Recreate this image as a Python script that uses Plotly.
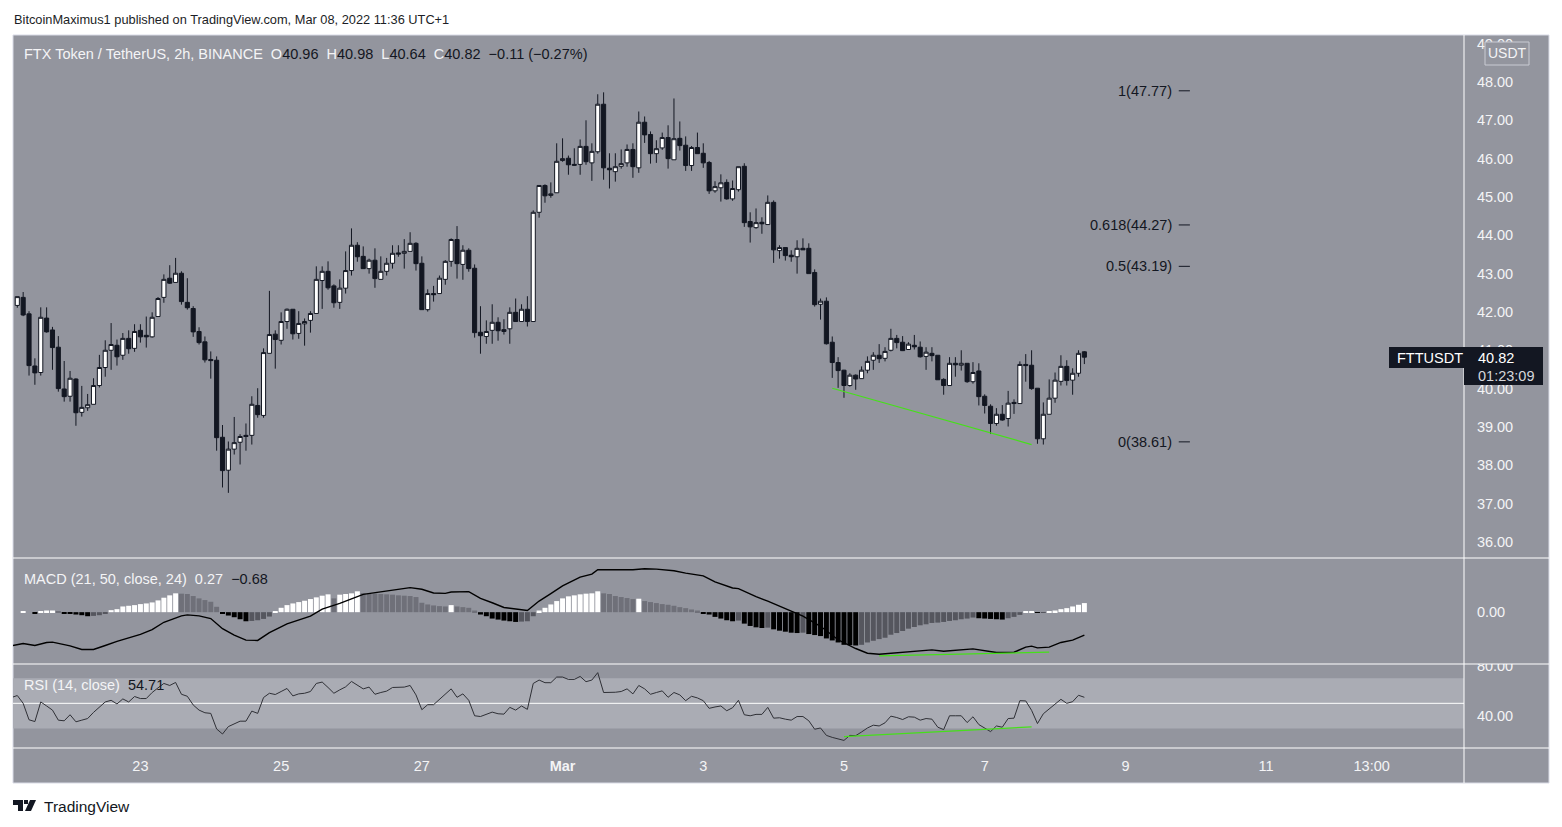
import plotly.graph_objects as go

W, H = 1562, 827

# FTTUSDT 2h candles
opens = [
    42.17, 42.38, 41.95, 40.59, 40.42, 41.84, 41.53, 41.08, 39.99, 39.80,
    40.25, 39.38, 39.50, 39.59, 40.08, 40.55, 41.00, 41.13, 40.87, 41.31,
    41.05, 41.52, 41.39, 41.35, 41.88, 42.38, 42.88, 42.77, 43.01, 42.25,
    42.09, 41.49, 41.22, 40.76, 40.74, 38.73, 37.87, 38.42, 38.60, 38.78,
    38.78, 39.56, 39.30, 40.92, 41.42, 41.26, 41.75, 42.07, 41.44, 41.69,
    41.78, 41.96, 42.82, 43.06, 42.68, 42.25, 42.62, 43.08, 43.74, 43.45,
    43.13, 43.35, 42.85, 43.06, 43.27, 43.54, 43.53, 43.58, 43.79, 43.27,
    42.06, 42.48, 42.48, 42.85, 43.32, 43.89, 43.24, 43.61, 43.14, 41.47,
    41.36, 41.52, 41.73, 41.49, 41.56, 41.99, 41.75, 42.07, 41.75, 44.60,
    45.30, 45.04, 45.11, 45.95, 46.01, 45.85, 45.85, 46.32, 45.89, 46.18,
    47.42, 45.75, 45.66, 45.80, 45.89, 46.24, 45.76, 46.95, 46.63, 46.13,
    46.28, 46.55, 45.97, 46.53, 46.35, 45.82, 46.29, 46.14, 45.90, 45.16,
    45.24, 45.38, 44.95, 45.19, 45.80, 44.36, 44.20, 44.34, 44.28, 44.86,
    43.60, 43.68, 43.48, 43.44, 43.66, 43.66, 43.03, 42.20, 42.28, 41.21,
    40.68, 40.48, 40.08, 40.35, 40.26, 40.48, 40.74, 40.87, 40.79, 41.00,
    41.31, 41.21, 41.02, 41.13, 41.08, 40.84, 40.92, 40.87, 40.24, 40.08,
    40.66, 40.61, 40.66, 40.18, 40.46, 39.80, 39.54, 39.09, 39.33, 39.22,
    39.64, 39.61, 40.63, 40.61, 40.01, 38.69, 39.33, 39.75, 40.19, 40.58,
    40.22, 40.40, 40.96,
]
highs = [
    42.40, 42.52, 42.02, 40.79, 42.12, 42.12, 41.61, 41.37, 40.72, 40.46,
    40.27, 40.07, 39.86, 40.27, 40.88, 41.26, 41.71, 41.28, 41.45, 41.52,
    41.68, 41.68, 41.88, 41.99, 42.39, 42.98, 43.22, 43.41, 43.06, 42.88,
    42.15, 41.60, 41.36, 40.97, 40.84, 39.05, 38.62, 39.26, 38.81, 39.09,
    39.80, 40.01, 41.05, 42.55, 41.52, 41.99, 42.09, 42.07, 42.02, 41.83,
    42.02, 43.19, 43.19, 43.32, 42.72, 42.85, 43.58, 44.18, 43.82, 43.71,
    43.39, 43.66, 43.45, 43.41, 43.74, 43.74, 43.90, 44.08, 43.82, 43.45,
    42.59, 42.68, 42.95, 43.35, 43.92, 44.24, 43.74, 43.66, 43.24, 42.15,
    41.78, 42.20, 41.86, 41.81, 42.12, 42.35, 42.20, 42.41, 44.65, 45.30,
    45.33, 45.38, 46.40, 46.53, 46.08, 46.27, 46.50, 47.00, 46.40, 47.68,
    47.73, 46.14, 46.14, 46.24, 46.37, 46.40, 47.23, 47.10, 46.71, 46.48,
    46.68, 46.87, 47.57, 46.97, 46.58, 46.33, 46.68, 46.40, 45.94, 45.41,
    45.59, 45.46, 45.43, 45.79, 45.88, 44.60, 44.70, 44.47, 45.04, 44.91,
    43.74, 43.68, 43.61, 43.87, 43.92, 43.79, 43.11, 42.35, 42.38, 41.36,
    40.82, 40.49, 40.40, 40.37, 40.58, 40.84, 40.95, 41.16, 41.08, 41.56,
    41.40, 41.37, 41.21, 41.40, 41.23, 41.08, 41.08, 40.87, 40.27, 40.82,
    40.82, 41.00, 40.66, 40.69, 40.66, 39.85, 39.59, 39.49, 39.57, 39.94,
    39.72, 40.71, 40.90, 41.00, 40.01, 39.64, 40.24, 40.42, 40.87, 40.74,
    40.53, 41.00, 40.98,
]
lows = [
    42.11, 41.89, 40.34, 40.10, 40.34, 41.46, 40.49, 39.92, 39.66, 39.66,
    39.03, 39.27, 39.42, 39.59, 40.03, 40.31, 40.49, 40.60, 40.75, 40.91,
    40.96, 41.20, 41.07, 41.33, 41.88, 42.24, 42.73, 42.77, 42.19, 42.06,
    41.35, 41.15, 40.68, 40.26, 38.38, 37.42, 37.28, 38.28, 38.02, 38.38,
    38.54, 39.24, 39.24, 40.92, 40.52, 41.15, 41.56, 41.28, 41.30, 41.12,
    41.46, 41.96, 42.08, 42.58, 42.11, 42.08, 42.48, 42.95, 43.31, 43.13,
    43.00, 42.63, 42.85, 42.95, 43.13, 43.44, 43.13, 43.58, 43.08, 42.06,
    42.01, 42.27, 42.48, 42.71, 43.18, 42.87, 42.84, 43.05, 41.33, 40.91,
    41.17, 41.17, 41.25, 41.41, 41.17, 41.75, 41.75, 41.62, 41.75, 44.46,
    44.85, 44.98, 45.11, 45.92, 45.58, 45.82, 45.58, 45.84, 45.42, 46.13,
    45.45, 45.22, 45.40, 45.74, 45.79, 45.50, 45.63, 46.41, 45.87, 45.89,
    46.23, 45.74, 45.97, 46.21, 45.68, 45.68, 46.13, 45.76, 45.08, 45.11,
    44.88, 44.93, 44.90, 45.14, 44.22, 43.81, 44.17, 44.04, 44.28, 43.28,
    43.39, 43.34, 43.31, 43.00, 43.62, 43.00, 42.14, 41.80, 41.15, 40.28,
    40.02, 39.76, 40.05, 39.97, 40.26, 40.40, 40.49, 40.67, 40.71, 40.97,
    41.05, 40.98, 41.01, 41.02, 40.81, 40.49, 40.71, 40.23, 39.84, 40.08,
    40.31, 40.47, 40.15, 40.13, 39.56, 39.35, 38.82, 39.03, 39.16, 39.01,
    39.34, 39.61, 40.18, 39.97, 38.56, 38.54, 39.33, 39.63, 40.08, 40.08,
    39.84, 40.31, 40.64,
]
closes = [
    42.40, 41.92, 40.60, 40.41, 41.86, 41.48, 41.07, 40.00, 39.79, 40.27,
    39.37, 39.51, 39.58, 40.08, 40.55, 41.00, 41.15, 40.83, 41.31, 41.04,
    41.49, 41.35, 41.35, 41.86, 42.35, 42.85, 42.75, 43.01, 42.27, 42.11,
    41.48, 41.20, 40.75, 40.73, 38.72, 37.86, 38.42, 38.59, 38.75, 38.75,
    39.59, 39.32, 40.94, 41.41, 41.28, 41.75, 42.07, 41.43, 41.70, 41.75,
    41.96, 42.85, 43.06, 42.63, 42.24, 42.62, 43.08, 43.74, 43.44, 43.13,
    43.35, 42.87, 43.06, 43.27, 43.53, 43.51, 43.58, 43.79, 43.26, 42.06,
    42.48, 42.45, 42.88, 43.32, 43.89, 43.26, 43.61, 43.13, 41.46, 41.38,
    41.49, 41.73, 41.51, 41.54, 41.99, 41.75, 42.07, 41.75, 44.60, 45.30,
    45.03, 45.08, 45.93, 46.00, 45.84, 45.83, 46.32, 45.92, 46.19, 47.42,
    45.76, 45.71, 45.79, 45.87, 46.24, 45.79, 46.95, 46.62, 46.13, 46.26,
    46.55, 46.00, 46.52, 46.34, 45.82, 46.29, 46.13, 45.89, 45.16, 45.27,
    45.37, 44.95, 45.22, 45.79, 44.33, 44.22, 44.33, 44.30, 44.86, 43.62,
    43.68, 43.47, 43.44, 43.66, 43.62, 43.00, 42.19, 42.28, 41.17, 40.68,
    40.47, 40.08, 40.35, 40.25, 40.48, 40.71, 40.87, 40.78, 40.97, 41.31,
    41.20, 40.99, 41.16, 41.09, 40.83, 40.95, 40.86, 40.23, 40.08, 40.66,
    40.62, 40.66, 40.18, 40.42, 39.79, 39.56, 39.09, 39.33, 39.18, 39.62,
    39.61, 40.63, 40.60, 40.00, 38.69, 39.33, 39.75, 40.22, 40.58, 40.21,
    40.40, 40.92, 40.82,
]

macd_hist = [
    0.00, 0.03, 0.00, -0.03, 0.03, 0.05, 0.05, 0.01, -0.03, -0.05,
    -0.07, -0.09, -0.12, -0.11, -0.09, -0.03, 0.06, 0.09, 0.17, 0.19,
    0.21, 0.24, 0.26, 0.29, 0.35, 0.43, 0.50, 0.56, 0.55, 0.54,
    0.48, 0.41, 0.36, 0.31, 0.16, -0.05, -0.10, -0.15, -0.21, -0.27,
    -0.26, -0.24, -0.20, -0.13, 0.03, 0.13, 0.21, 0.26, 0.30, 0.34,
    0.39, 0.44, 0.49, 0.53, 0.41, 0.52, 0.54, 0.56, 0.62, 0.57,
    0.56, 0.55, 0.54, 0.53, 0.52, 0.50, 0.49, 0.48, 0.45, 0.28,
    0.23, 0.20, 0.18, 0.17, 0.21, 0.17, 0.15, 0.13, 0.05, -0.07,
    -0.12, -0.19, -0.22, -0.25, -0.27, -0.29, -0.28, -0.27, -0.12, 0.05,
    0.13, 0.23, 0.33, 0.41, 0.47, 0.50, 0.53, 0.55, 0.56, 0.62,
    0.56, 0.54, 0.48, 0.45, 0.42, 0.39, 0.40, 0.33, 0.30, 0.27,
    0.24, 0.22, 0.19, 0.15, 0.12, 0.08, 0.05, -0.03, -0.07, -0.14,
    -0.19, -0.24, -0.27, -0.25, -0.34, -0.41, -0.45, -0.47, -0.46, -0.51,
    -0.55, -0.58, -0.61, -0.62, -0.61, -0.65, -0.68, -0.71, -0.78, -0.84,
    -0.90, -0.97, -0.98, -0.99, -0.97, -0.90, -0.85, -0.80, -0.76, -0.67,
    -0.62, -0.56, -0.49, -0.44, -0.39, -0.36, -0.32, -0.31, -0.29, -0.26,
    -0.24, -0.21, -0.19, -0.16, -0.18, -0.19, -0.20, -0.21, -0.22, -0.18,
    -0.14, -0.08, 0.02, 0.03, -0.01, -0.01, 0.01, 0.05, 0.09, 0.12,
    0.17, 0.22, 0.27,
]

# macd signal line, vertices read at these bars
macd_bars = [
    -1, 1, 3, 5, 6, 8, 9, 11, 13, 15, 17, 21, 23, 25, 28, 29, 31, 33, 35, 37,
    39, 41, 43, 46, 50, 52, 55, 59, 61, 62, 65, 67, 69, 71, 73, 74, 77, 79, 81, 83,
    87, 89, 91, 93, 96, 98, 99, 102, 105, 107, 109, 112, 114, 117, 119, 122, 123, 126, 128, 132,
    134, 137, 140, 143, 145, 147, 150, 153, 156, 158, 163, 167, 170, 172, 173, 174, 176, 178, 180, 182,
]
macd_line = [
    -1.00, -0.93, -0.99, -0.90, -0.89, -0.97, -1.00, -1.11, -1.11, -0.99, -0.87, -0.66, -0.52, -0.30, -0.11, -0.08, -0.11, -0.19, -0.49, -0.68,
    -0.83, -0.84, -0.61, -0.35, -0.12, 0.09, 0.26, 0.53, 0.58, 0.59, 0.68, 0.73, 0.68, 0.57, 0.56, 0.60, 0.61, 0.41, 0.28, 0.14,
    0.05, 0.33, 0.55, 0.78, 1.04, 1.13, 1.26, 1.26, 1.26, 1.29, 1.28, 1.23, 1.16, 1.08, 0.90, 0.72, 0.70, 0.46, 0.33, 0.03,
    -0.12, -0.42, -0.82, -1.08, -1.22, -1.25, -1.21, -1.16, -1.12, -1.16, -1.09, -1.20, -1.19, -1.04, -1.01, -1.06, -1.04, -0.90, -0.83, -0.68,
]

# rsi per bar, first value belongs to the bar before the first candle
rsi = [
    54.6, 56.2, 50.0, 36.9, 35.5, 51.1, 47.9, 44.6, 36.6, 36.1,
    40.9, 35.3, 36.6, 37.9, 42.8, 47.0, 51.1, 52.4, 49.5, 53.5,
    51.1, 55.4, 53.8, 53.8, 58.6, 62.3, 65.8, 64.2, 66.6, 57.2,
    55.6, 48.7, 44.6, 42.5, 42.0, 29.6, 25.6, 31.5, 33.9, 35.8,
    35.8, 43.8, 42.0, 54.6, 58.0, 57.0, 59.4, 61.8, 55.9, 57.5,
    58.0, 59.4, 65.8, 66.9, 62.6, 58.0, 60.7, 63.1, 67.4, 64.5,
    61.5, 62.9, 57.2, 58.6, 59.7, 62.6, 62.6, 62.9, 64.2, 56.7,
    44.9, 48.9, 48.9, 52.9, 57.2, 61.5, 54.8, 57.5, 52.4, 40.1,
    39.5, 41.4, 43.0, 41.7, 41.4, 46.8, 44.6, 47.9, 45.2, 65.8,
    68.5, 66.4, 66.4, 70.9, 70.9, 69.0, 69.0, 71.4, 67.2, 68.5,
    74.4, 58.6, 58.6, 58.8, 59.4, 61.5, 57.5, 64.2, 61.5, 57.2,
    58.6, 59.9, 54.8, 58.6, 56.7, 52.1, 55.6, 54.3, 52.1, 46.0,
    47.1, 47.9, 44.1, 46.5, 52.4, 40.9, 40.1, 41.2, 41.2, 46.8,
    38.2, 38.5, 37.4, 36.6, 39.5, 39.5, 36.1, 29.4, 30.4, 24.5,
    22.9, 21.6, 20.5, 24.5, 24.3, 27.2, 30.4, 32.6, 32.0, 34.5,
    39.8, 38.7, 37.1, 39.3, 39.0, 36.6, 37.9, 37.4, 31.0, 29.1,
    40.1, 40.1, 40.1, 34.7, 39.3, 33.1, 30.4, 27.5, 32.0, 31.0,
    37.9, 38.2, 52.1, 51.9, 44.4, 33.9, 41.7, 45.4, 49.5, 53.2,
    50.0, 51.3, 56.4, 54.8,
]

fib_labels = ["1", "0.618", "0.5", "0"]
fib_levels = [47.77, 44.27, 43.19, 38.61]

trend_bars = [139, 173]
price_trend = [40.01, 38.54]
macd_trend_bars = [147, 176]
macd_trend = [-1.30, -1.19]
rsi_trend_bars = [141, 173]
rsi_trend = [23.5, 31.3]

tick_bars = [21, 45, 69, 93, 117, 141, 165, 189, 213, 231]
tick_text = ["23", "25", "27", "<b>Mar</b>", "3", "5", "7", "9", "11", "13:00"]

BG = "#93959e"
DARK = "#131722"
LIGHT = "#f4f4f6"
GREEN = "#46e01a"
FONT = "Liberation Sans"


def px(x):
    return x / W


def py(y):
    return 1 - y / H


def hist_colors(values):
    colors = []
    prev = values[0]
    for v in values:
        if v >= 0:
            colors.append("#ffffff" if v >= prev else "#6f7079")
        else:
            colors.append("#000000" if v < prev else "#55565e")
        prev = v
    return colors


def paper_rect(x0, y0, x1, y1, fill, line=None, layer="below"):
    return dict(type="rect", xref="paper", yref="paper", x0=px(x0), x1=px(x1), y0=py(y0), y1=py(y1),
                fillcolor=fill, line=dict(color=line or fill, width=1 if line else 0), layer=layer)


def paper_line(x0, y0, x1, y1, layer="below"):
    return dict(type="line", xref="paper", yref="paper", x0=px(x0), x1=px(x1), y0=py(y0), y1=py(y1),
                line=dict(color="#ffffff", width=1), layer=layer)


def paper_path(points, fill):
    d = "M " + " L ".join("{:.5f},{:.5f}".format(px(x), py(y)) for x, y in points) + " Z"
    return dict(type="path", xref="paper", yref="paper", path=d, fillcolor=fill, line=dict(width=0), layer="above")


def label(x, y, text, size=14.5, color=LIGHT, anchor="left"):
    return dict(xref="paper", yref="paper", x=px(x), y=py(y), text=text, showarrow=False, xanchor=anchor,
                yanchor="middle", align=anchor, borderpad=0, font=dict(family=FONT, size=size, color=color))


bars = list(range(len(opens)))

fig = go.Figure()
fig.add_trace(go.Candlestick(
    x=bars, open=opens, high=highs, low=lows, close=closes, xaxis="x", yaxis="y", whiskerwidth=0,
    increasing=dict(line=dict(color=DARK, width=1), fillcolor="#ffffff"),
    decreasing=dict(line=dict(color=DARK, width=1), fillcolor=DARK),
))
fig.add_trace(go.Scatter(x=trend_bars, y=price_trend, mode="lines", xaxis="x", yaxis="y",
                         line=dict(color=GREEN, width=1.2)))
fig.add_trace(go.Bar(x=bars, y=macd_hist, xaxis="x", yaxis="y2", width=0.85,
                     marker=dict(color=hist_colors(macd_hist), line=dict(width=0))))
fig.add_trace(go.Scatter(x=macd_bars, y=macd_line, mode="lines", xaxis="x", yaxis="y2",
                         line=dict(color="#000000", width=1.4)))
fig.add_trace(go.Scatter(x=macd_trend_bars, y=macd_trend, mode="lines", xaxis="x", yaxis="y2",
                         line=dict(color=GREEN, width=1.2)))
fig.add_trace(go.Scatter(x=[b - 1 for b in range(len(rsi))], y=rsi, mode="lines", xaxis="x", yaxis="y3",
                         line=dict(color="#2f3036", width=1)))
fig.add_trace(go.Scatter(x=rsi_trend_bars, y=rsi_trend, mode="lines", xaxis="x", yaxis="y3",
                         line=dict(color=GREEN, width=1.2)))

shapes = [
    paper_rect(13, 35, 1549, 783, BG, line="#d9dbe6"),
    dict(type="rect", xref="paper", yref="y3", x0=px(13), x1=px(1464), y0=30, y1=70,
         fillcolor="#aaacb4", line=dict(width=0), layer="below"),
    dict(type="line", xref="paper", yref="y3", x0=px(13), x1=px(1464), y0=50, y1=50,
         line=dict(color="#ffffff", width=1), layer="below"),
]
for level in fib_levels:
    shapes.append(dict(type="line", xref="x", yref="y", x0=198.1, x1=200, y0=level, y1=level,
                       line=dict(color=DARK, width=1), layer="above"))

# hides the top half of the 80.00 label, the pane clips it in the original
shapes.append(paper_rect(1465, 650, 1548, 664, BG, layer="above"))
shapes += [
    paper_line(13, 558, 1549, 558, layer="above"),
    paper_line(13, 664, 1549, 664, layer="above"),
    paper_line(13, 748, 1549, 748, layer="above"),
    paper_line(1464, 35, 1464, 783, layer="above"),
]

# last price tag
shapes.append(paper_rect(1389, 347, 1464, 368, DARK, layer="above"))
shapes.append(paper_rect(1464, 347, 1543, 385, DARK, layer="above"))
# USDT badge
shapes.append(dict(type="rect", xref="paper", yref="paper", x0=px(1485), x1=px(1529), y0=py(42), y1=py(65),
                   fillcolor=BG, line=dict(color="#c9cbd3", width=1), layer="above"))
# TradingView logo
shapes.append(paper_path([(13, 800), (23, 800), (23, 811), (18, 811), (18, 805), (13, 805)], "#131722"))
shapes.append(paper_path([(24, 800), (28, 800), (28, 804), (24, 804)], "#131722"))
shapes.append(paper_path([(30, 800), (36, 800), (31, 811), (25, 811)], "#131722"))

v = "<span style='color:{}'>".format(DARK)
annotations = [
    label(13, 19, "BitcoinMaximus1 published on TradingView.com, Mar 08, 2022 11:36 UTC+1", size=12.8, color="#1c1e26"),
    label(23, 54, "FTX Token / TetherUS, 2h, BINANCE &nbsp;O{v}{o:.2f}</span> &nbsp;H{v}{h:.2f}</span> &nbsp;L{v}{l:.2f}</span> &nbsp;C{v}{c:.2f}</span> &nbsp;{v}−0.11 (−0.27%)</span>".format(
        v=v, o=opens[-1], h=highs[-1], l=lows[-1], c=closes[-1])),
    label(23, 579, "MACD (21, 50, close, 24) &nbsp;{:.2f} &nbsp;{}−{:.2f}</span>".format(macd_hist[-1], v, abs(macd_line[-1]))),
    label(23, 685, "RSI (14, close) &nbsp;{}54.71</span>".format(v)),
    label(1507, 53, "USDT", size=14, anchor="center"),
    label(1396, 358, "FTTUSDT", size=14.5, color="#ffffff"),
    label(1477, 358, "{:.2f}".format(closes[-1]), size=14.5, color="#ffffff"),
    label(1477, 376, "01:23:09", size=14.5, color="#d6d7db"),
    label(43, 806, "TradingView", size=15.5, color="#131722"),
]
for name, level in zip(fib_labels, fib_levels):
    annotations.append(dict(xref="x", yref="y", x=197.1, y=level, text="{}({:.2f})".format(name, level),
                            showarrow=False, xanchor="right", yanchor="middle", borderpad=0,
                            font=dict(family=FONT, size=14.5, color=DARK)))

y_common = dict(side="right", anchor="x", showgrid=False, zeroline=False, showline=False, tickformat=".2f",
                ticks="outside", ticklen=9, tickcolor="rgba(0,0,0,0)",
                tickfont=dict(family=FONT, size=14.5, color=LIGHT))

fig.update_layout(
    width=W, height=H, margin=dict(l=0, r=0, t=0, b=0, autoexpand=False), autosize=False,
    paper_bgcolor="#ffffff", plot_bgcolor="rgba(0,0,0,0)", showlegend=False, hovermode=False,
    boxgap=0.3, boxgroupgap=0,
    shapes=shapes, annotations=annotations,
    xaxis=dict(domain=[px(13), px(1464)], range=[-0.733, 246.75], anchor="y3", rangeslider=dict(visible=False),
               showgrid=False, zeroline=False, showline=False, tickmode="array", tickvals=tick_bars,
               ticktext=tick_text, ticks="outside", ticklen=5, tickcolor="rgba(0,0,0,0)",
               tickfont=dict(family=FONT, size=14.5, color=LIGHT)),
    yaxis=dict(domain=[py(558), py(35)], range=[35.58, 49.226], tickvals=list(range(36, 50)), **y_common),
    yaxis2=dict(domain=[py(664), py(558)], range=[-1.54, 1.61], tickvals=[0], **y_common),
    yaxis3=dict(domain=[py(748), py(664)], range=[14.47, 81.27], tickvals=[40, 80], **y_common),
)

fig.write_html("out.html", config={"displayModeBar": False}, post_script="document.body.style.margin='0';")
